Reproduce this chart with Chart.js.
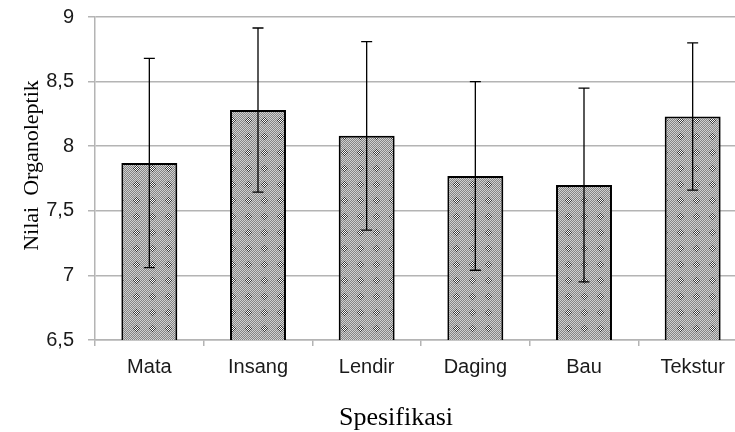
<!DOCTYPE html>
<html>
<head>
<meta charset="utf-8">
<script src="https://cdn.jsdelivr.net/npm/chart.js@4.4.0/dist/chart.umd.min.js"></script>
<style>
  body { margin: 0; background: #fff; overflow: hidden; }
</style>
</head>
<body>
<canvas id="organoleptikChart" width="747" height="432"></canvas>
<script>
const categories = ['Mata', 'Insang', 'Lendir', 'Daging', 'Bau', 'Tekstur'];

const means = [
  7.87,  // Mata
  8.28,  // Insang
  8.08,  // Lendir
  7.77,  // Daging
  7.70,  // Bau
  8.23   // Tekstur
];

const errors = [
  0.81,  // Mata
  0.635, // Insang
  0.73,  // Lendir
  0.73,  // Daging
  0.75,  // Bau
  0.57   // Tekstur
];

const yTickLabels = ['6,5', '7', '7,5', '8', '8,5', '9'];

// dotted-diamond fill like the spreadsheet pattern
function makePattern() {
  const n = 16;
  const c = document.createElement('canvas');
  c.width = n; c.height = n;
  const g = c.getContext('2d');
  for (let y = 0; y < n; y++) {
    for (let x = 0; x < n; x++) {
      let col = (x + y) % 2 ? '#858585' : '#d0d0d0';
      const d = Math.abs(x - 8) + Math.abs(y - 8);
      if (d <= 3) col = (x + y) % 2 ? '#3a3a3a' : '#ffffff';
      g.fillStyle = col;
      g.fillRect(x, y, 1, 1);
    }
  }
  return g.createPattern(c, 'repeat');
}

const errorBars = {
  id: 'errorBars',
  afterDatasetsDraw(chart) {
    const ctx = chart.ctx;
    const yScale = chart.scales.y;
    const meta = chart.getDatasetMeta(0);
    ctx.save();
    ctx.strokeStyle = '#000';
    ctx.lineWidth = 1.3;
    meta.data.forEach((bar, i) => {
      const x = bar.x;
      const top = yScale.getPixelForValue(means[i] + errors[i]);
      const bot = yScale.getPixelForValue(means[i] - errors[i]);
      ctx.beginPath();
      ctx.moveTo(x, top); ctx.lineTo(x, bot);
      ctx.moveTo(x - 5.5, top); ctx.lineTo(x + 5.5, top);
      ctx.moveTo(x - 5.5, bot); ctx.lineTo(x + 5.5, bot);
      ctx.stroke();
    });
    ctx.restore();
  }
};

// axis titles sit off-centre in the original, so draw them here
const axisTitles = {
  id: 'axisTitles',
  afterDraw(chart) {
    const ctx = chart.ctx;
    const area = chart.chartArea;
    ctx.save();
    ctx.fillStyle = '#000';
    ctx.textAlign = 'center';
    ctx.textBaseline = 'alphabetic';
    ctx.font = '26px "Liberation Serif"';
    ctx.fillText('Spesifikasi', 396, 425);
    ctx.translate(38, (area.top + area.bottom) / 2 - 13);
    ctx.rotate(-Math.PI / 2);
    ctx.font = '22px "Liberation Serif"';
    ctx.fillText('Nilai  Organoleptik', 0, 0);
    ctx.restore();
  }
};

const ctx = document.getElementById('organoleptikChart').getContext('2d');

new Chart(ctx, {
  type: 'bar',
  data: {
    labels: categories,
    datasets: [{
      label: 'Nilai Organoleptik',
      data: means,
      backgroundColor: makePattern(),
      borderColor: '#000',
      borderWidth: 2,
      borderSkipped: false,
      categoryPercentage: 1,
      barPercentage: 0.515
    }]
  },
  options: {
    responsive: false,
    animation: false,
    layout: {
      padding: { top: 17, right: 0, bottom: 0, left: 0 }
    },
    plugins: {
      legend: { display: false },
      tooltip: { enabled: false }
    },
    scales: {
      x: {
        grid: {
          drawOnChartArea: false,
          tickLength: 6,
          color: '#b4b4b4',
          lineWidth: 1.5
        },
        border: { color: '#b4b4b4', width: 1.5 },
        ticks: {
          color: '#1a1a1a',
          padding: 9,
          font: { family: '"Liberation Sans"', size: 20 }
        },
        afterFit: s => { s.height = 92; }
      },
      y: {
        min: 6.5,
        max: 9,
        ticks: {
          stepSize: 0.5,
          color: '#1a1a1a',
          padding: 14,
          font: { family: '"Liberation Sans"', size: 20 },
          callback: (v, i) => yTickLabels[i]
        },
        grid: {
          color: '#b4b4b4',
          lineWidth: 1.5,
          tickLength: 7
        },
        border: { color: '#b4b4b4', width: 1.5 },
        afterFit: s => {
          s.width = 95;
          s.paddingTop = 0;
          s.paddingBottom = 0;
        }
      }
    }
  },
  plugins: [errorBars, axisTitles]
});
</script>
</body>
</html>
